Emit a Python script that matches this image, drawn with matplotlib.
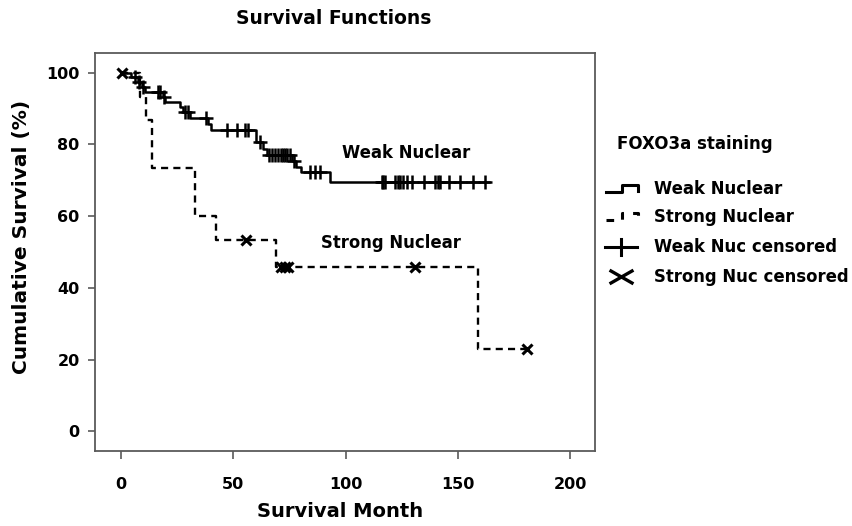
import matplotlib
matplotlib.use("Agg")
import matplotlib.pyplot as plt
from matplotlib.lines import Line2D

plt.rcParams['font.family'] = 'DejaVu Sans'
plt.rcParams['font.weight'] = 'bold'
plt.rcParams['axes.labelweight'] = 'bold'

W, H = 852, 526

# Weak nuclear staining: step times (months) and survival (%) after each step
weak_time = [0, 4.5, 7.5, 9.5, 10.5, 18.5, 19.5, 26.3, 27.5, 30.5, 38.5, 40.0,
             60.0, 63.4, 65.0, 76.0, 78.0, 80.0, 92.8, 163.6]
weak_surv = [100, 98.7, 97.3, 96.0, 94.7, 93.3, 91.8, 90.4, 89.0, 87.5, 85.8, 84.1,
             80.8, 78.6, 77.1, 75.4, 73.8, 72.2, 69.5, 69.5]

weak_cens_time = [6.2, 8.0, 9.8, 16.5, 17.5, 19.0, 28.6, 30.0, 38.0, 47.0, 51.5,
                  55.2, 56.7, 62.0, 66.0, 67.0, 68.5, 70.0, 71.0, 72.0, 73.0, 74.0,
                  75.0, 77.0, 84.2, 86.4, 88.6, 116.1, 116.8, 117.6, 122.0, 123.5,
                  124.3, 125.7, 127.3, 129.5, 134.7, 139.9, 140.9, 142.1, 145.8,
                  151.0, 156.9, 162.1]
weak_cens_surv = [98.7, 97.3, 96.0, 94.7, 94.7, 93.3, 89.0, 89.0, 87.5, 84.1, 84.1,
                  84.1, 84.1, 80.8, 77.1, 77.1, 77.1, 77.1, 77.1, 77.1, 77.1, 77.1,
                  77.1, 75.4, 72.2, 72.2, 72.2, 69.5, 69.5, 69.5, 69.5, 69.5,
                  69.5, 69.5, 69.5, 69.5, 69.5, 69.5, 69.5, 69.5, 69.5,
                  69.5, 69.5, 69.5]

# Strong nuclear staining
strong_time = [0, 8.5, 11.3, 13.7, 32.7, 42.4, 69.0, 159.0, 180.7]
strong_surv = [100, 93.3, 86.7, 73.3, 60.0, 53.3, 45.7, 22.9, 22.9]

strong_cens_time = [0.5, 55.8, 71.0, 73.0, 74.5, 131.0, 180.7]
strong_cens_surv = [100, 53.3, 45.7, 45.7, 45.7, 45.7, 22.9]

x_ticks = [0, 50, 100, 150, 200]
y_ticks = [0, 20, 40, 60, 80, 100]

axis_grey = '#5a5a5a'
dash = (0, (3.0, 2.2))


def px(x, y):
    # pixel position -> figure fraction
    return x / W, 1 - y / H


fig = plt.figure(figsize=(W / 100, H / 100), dpi=100)
ax = fig.add_axes([95 / W, 1 - 451 / H, 500 / W, 398.3 / H])

ax.step(weak_time, weak_surv, where='post', color='black', lw=1.8)
ax.step(strong_time, strong_surv, where='post', color='black', lw=1.7, linestyle=dash)
ax.plot(weak_cens_time, weak_cens_surv, '+', color='black', ms=10, mew=1.8)
ax.plot(strong_cens_time, strong_cens_surv, 'x', color='black', ms=6.5, mew=2.2)

ax.text(98.4, 77.6, 'Weak Nuclear', fontsize=11.9, fontweight='bold', va='center')
ax.text(89, 52.6, 'Strong Nuclear', fontsize=11.9, fontweight='bold', va='center')

ax.set_xlim(-11.6, 211)
ax.set_ylim(-5.5, 105.6)
ax.set_xticks(x_ticks)
ax.set_yticks(y_ticks)
ax.tick_params(axis='both', colors=axis_grey, labelcolor='black', labelsize=11.5,
               direction='out', width=1.2)
ax.tick_params(axis='x', length=6, pad=13)
ax.tick_params(axis='y', length=5, pad=6)
for lab in ax.get_xticklabels() + ax.get_yticklabels():
    lab.set_fontweight('bold')
for sp in ax.spines.values():
    sp.set_color(axis_grey)
    sp.set_linewidth(1.3)

ax.set_xlabel('Survival Month', fontsize=14, fontweight='bold', va='center')
ax.xaxis.set_label_coords(0.49, -0.151)
ax.set_ylabel('Cumulative Survival (%)', fontsize=14.5, fontweight='bold', va='center')
ax.yaxis.set_label_coords(-0.146, 0.537)

fig.text(*px(334, 18), 'Survival Functions', fontsize=13.5, fontweight='bold',
         ha='center', va='center')

# legend drawn by hand, to get the step-shaped icons
fig.text(*px(617, 144), 'FOXO3a staining', fontsize=12, fontweight='bold', va='center')
rows = ['Weak Nuclear', 'Strong Nuclear', 'Weak Nuc censored', 'Strong Nuc censored']
row_y = [189, 217, 247, 277]
for lab, y in zip(rows, row_y):
    fig.text(*px(654, y), lab, fontsize=11.9, fontweight='bold', va='center')

for y, ls in [(189, '-'), (217, (0, (2.5, 3.0)))]:
    xs = [606, 622, 622, 638, 638]
    ys = [y + 3, y + 3, y - 4, y - 4, y + 2]
    pts = [px(a, b) for a, b in zip(xs, ys)]
    fig.add_artist(Line2D([p[0] for p in pts], [p[1] for p in pts], color='black',
                          lw=2.2, linestyle=ls, transform=fig.transFigure))

fig.add_artist(Line2D(*zip(px(605, 247), px(637, 247)), color='black', lw=2.2,
                      transform=fig.transFigure))
fig.add_artist(Line2D(*zip(px(621, 239), px(621, 255)), color='black', lw=2.2,
                      transform=fig.transFigure))
fig.add_artist(Line2D(*zip(px(611, 271), px(632, 283)), color='black', lw=2.4,
                      transform=fig.transFigure))
fig.add_artist(Line2D(*zip(px(611, 283), px(632, 271)), color='black', lw=2.4,
                      transform=fig.transFigure))

fig.savefig('out.png', dpi=100)
